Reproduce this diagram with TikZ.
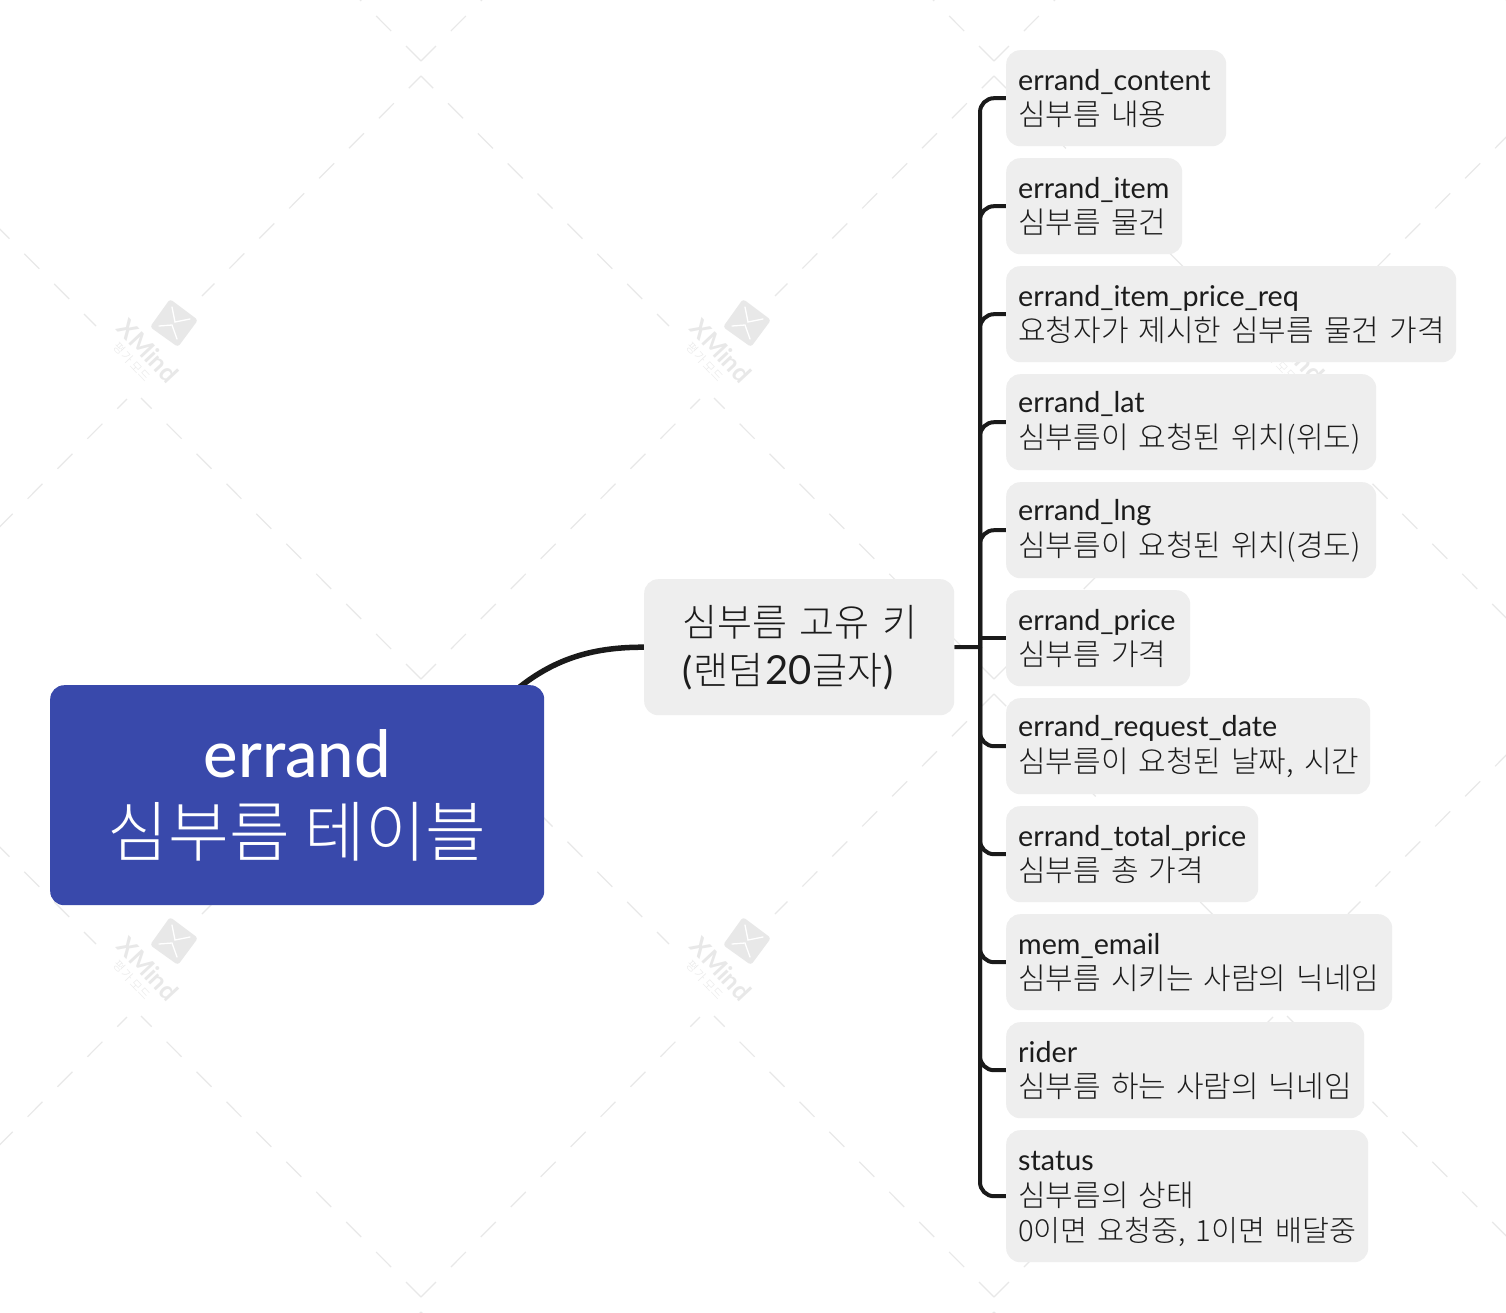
\documentclass[tikz,border=0pt]{standalone}
\usepackage{fontspec}
\usetikzlibrary{backgrounds}
\setmainfont{Noto Sans CJK KR Light}
\newfontfamily\lat{Lato}
\newfontfamily\latm{Lato Medium}
\definecolor{wm}{HTML}{E8E8E8}
\definecolor{boxg}{HTML}{EEEEEE}
\definecolor{rootb}{HTML}{3949AB}
\definecolor{ink}{HTML}{1C1C1C}
\definecolor{lineb}{HTML}{1A1A1A}
\newcommand{\la}[1]{\mbox{\rule{0pt}{22pt}\lat\fontsize{28.7}{35}\selectfont #1}}
\newcommand{\kr}[1]{\mbox{#1}}
\tikzset{
 wmline/.style={draw=wm,line width=1.2pt,dash pattern=on 21.2pt off 21.2pt},
 wmstart/.style={wmline,dash phase=4pt},
 child/.style={anchor=north west,fill=boxg,rounded corners=14pt,inner xsep=12pt,inner ysep=0pt,align=left,text=ink,font=\fontsize{30}{35.5}\selectfont},
 branch/.style={draw=lineb,line width=4pt,rounded corners=14pt},
}
\newcommand{\kid}[6]{\node[child,text width=#4pt-24pt,minimum height=#5pt] (#1) at (#2,#3) {#6};}
\begin{document}
\begin{tikzpicture}[x=1pt,y=-1pt]
\useasboundingbox (0,0) rectangle (1506,1312);
\node[anchor=north west,fill=rootb,rounded corners=14pt,minimum width=494pt,minimum height=220pt,inner sep=0pt,text=white,align=center,font=\fontsize{66}{79}\selectfont] (root) at (50,685)
 {{\latm\fontsize{65}{79}\selectfont errand}\\심부름 테이블};
\node[anchor=north west,fill=boxg,rounded corners=14pt,minimum height=136pt,text width=234pt,inner xsep=38pt,inner ysep=0pt,align=left,text=ink,font=\fontsize{38}{48}\selectfont] (sub) at (644,579)
 {\kr{심부름 고유 키}\\\kr{{\lat (}\kern1pt 랜덤\kern2pt{\lat\fontsize{40}{48}\selectfont 20}\kern1pt 글자\kern1pt{\lat )}}};
\kid{c1}{1006}{50}{220}{96}{\la{errand\_content}\\\kr{심부름 내용}}
\kid{c2}{1006}{158}{176}{96}{\la{errand\_item}\\\kr{심부름 물건}}
\kid{c3}{1006}{266}{450}{96}{\la{errand\_item\_price\_req}\\\kr{요청자가 제시한 심부름 물건 가격}}
\kid{c4}{1006}{374}{370}{96}{\la{errand\_lat}\\\kr{심부름이 요청된 위치(위도)}}
\kid{c5}{1006}{482}{370}{96}{\la{errand\_lng}\\\kr{심부름이 요청된 위치(경도)}}
\kid{c6}{1006}{590}{184}{96}{\la{errand\_price}\\\kr{심부름 가격}}
\kid{c7}{1006}{698}{364}{96}{\la{errand\_request\_date}\\\kr{심부름이 요청된 날짜, 시간}}
\kid{c8}{1006}{806}{252}{96}{\la{errand\_total\_price}\\\kr{심부름 총 가격}}
\kid{c9}{1006}{914}{386}{96}{\la{mem\_email}\\\kr{심부름 시키는 사람의 닉네임}}
\kid{c10}{1006}{1022}{358}{96}{\la{rider}\\\kr{심부름 하는 사람의 닉네임}}
\kid{c11}{1006}{1130}{362}{132}{\rule{0pt}{25pt}\la{status}\\\kr{심부름의 상태}\\\kr{\fontsize{29.3}{35.5}\selectfont 0이면 요청중, 1이면 배달중}}
\begin{pgfonlayer}{background}
\fill[white] (0,0) rectangle (1506,1312);
\begin{scope}
\clip (0,0) rectangle (1506,1312);
\foreach \i in {-1,0,1,2}{\foreach \j in {-1,0,1,2}{
\begin{scope}[shift={(\i*573,\j*618)}]
 \draw[wmstart] (421,76) -- (202,296);
 \draw[wmstart] (421,76) -- (669,326);
 \draw[wmline] (421,61) -- (700,-219);
 \draw[wmline] (421,61) -- (141,-220);
\end{scope}}}
\foreach \i in {0,1,2}{\foreach \j in {0,1}{
\begin{scope}[shift={(\i*573,\j*618)}]
 \fill[wm,rounded corners=3pt] (170,299) -- (198,320) -- (178,347) -- (150,327) -- cycle;
 \draw[white,line width=1.3pt,line cap=round] (172,307) -- (175,322) -- (190,319);
 \draw[white,line width=1.3pt,line cap=round] (159,326) -- (172,325) -- (177,339);
 \node[text=wm,rotate=-47,inner sep=0pt] (wmx\i\j) at (148,351) {\lat\bfseries\fontsize{25}{25}\selectfont XMind};
 \node[text=wm,rotate=-47,inner sep=0pt] (wmy\i\j) at (132,362) {\fontsize{12}{12}\selectfont 평가 모드};
\end{scope}}}
\end{scope}
\coordinate (rootstart) at (510,695);
\coordinate (spine) at (980,647);
\draw[draw=lineb,line width=5.5pt] (sub.west) .. controls (590,647) and (550,660) .. (rootstart);
\draw[branch] (sub.east) -- (spine);
\foreach \c in {c1,c2,c3,c4,c5,c7,c8,c9,c10,c11}{\draw[branch] (spine) |- (\c.west);}
\draw[branch] (c6.west) -- (c6.west -| spine);
\end{pgfonlayer}
\end{tikzpicture}
\end{document}
